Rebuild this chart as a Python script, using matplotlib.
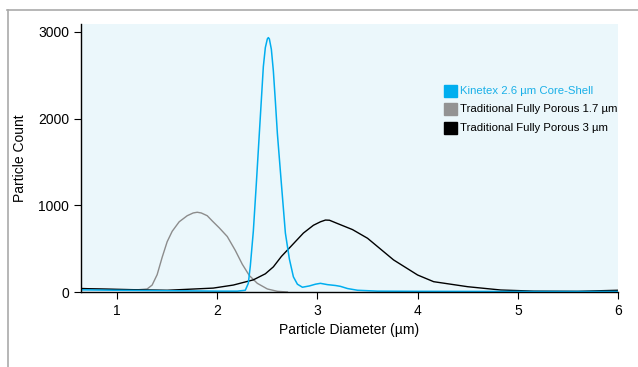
import matplotlib.pyplot as plt
from matplotlib.lines import Line2D

# data
kinetex_x = [0.64, 1.0, 1.5, 2.0, 2.2, 2.28, 2.31, 2.33, 2.36, 2.39, 2.42, 2.46, 2.48, 2.50,
             2.51, 2.52, 2.54, 2.56, 2.58, 2.60, 2.64, 2.68, 2.72, 2.76, 2.80, 2.85, 2.92,
             2.98, 3.03, 3.10, 3.18, 3.23, 3.30, 3.40, 3.60, 4.0, 5.0, 6.0]
kinetex_y = [25, 20, 15, 10, 10, 20, 100, 300, 700, 1250, 1830, 2600, 2820, 2920,
             2935, 2920, 2800, 2550, 2200, 1830, 1250, 680, 380, 175, 90, 55, 70,
             90, 100, 85, 75, 65, 40, 20, 10, 8, 6, 6]

porous17_x = [0.64, 1.0, 1.2, 1.30, 1.35, 1.40, 1.45, 1.50, 1.55, 1.62, 1.70, 1.76, 1.80,
              1.84, 1.90, 1.95, 2.02, 2.10, 2.18, 2.25, 2.32, 2.40, 2.50, 2.60, 2.70]
porous17_y = [40, 30, 25, 35, 80, 200, 400, 580, 700, 810, 880, 912, 920,
              912, 880, 820, 740, 640, 480, 320, 190, 100, 35, 8, 0]

porous3_x = [0.64, 1.0, 1.5, 1.96, 2.16, 2.36, 2.48, 2.56, 2.64, 2.73, 2.86, 2.96, 3.03,
             3.08, 3.12, 3.20, 3.35, 3.50, 3.76, 4.0, 4.16, 4.5, 4.83, 5.16, 5.6, 6.0]
porous3_y = [40, 30, 20, 45, 80, 140, 210, 290, 410, 520, 680, 770, 810,
             830, 828, 790, 720, 620, 370, 196, 119, 61, 23, 10, 8, 20]

labels = ['Kinetex 2.6 µm Core-Shell', 'Traditional Fully Porous 1.7 µm',
          'Traditional Fully Porous 3 µm']
colors = ['#00aeef', '#8c8c8c', '#000000']

plt.rcParams['font.family'] = ['Liberation Sans', 'DejaVu Sans']

fig = plt.figure(figsize=(6.38, 3.67), dpi=100)
ax = fig.add_axes([81 / 638, 75 / 367, 537 / 638, 268 / 367])
ax.set_facecolor('#ebf7fb')

ax.plot(porous17_x, porous17_y, color=colors[1], lw=1.0)
ax.plot(porous3_x, porous3_y, color=colors[2], lw=1.0)
ax.plot(kinetex_x, kinetex_y, color=colors[0], lw=1.1)

ax.set_xlim(0.64, 6)
ax.set_ylim(0, 3092)
ax.set_xticks([1, 2, 3, 4, 5, 6])
ax.set_yticks([0, 1000, 2000, 3000])
ax.tick_params(labelsize=10, length=5, width=0.8, colors='black')
for s in ['top', 'right']:
    ax.spines[s].set_visible(False)
for s in ['left', 'bottom']:
    ax.spines[s].set_linewidth(1.0)

ax.set_xlabel('Particle Diameter (µm)', fontsize=10, labelpad=4)
ax.set_ylabel('Particle Count', fontsize=10, labelpad=8)

# legend as coloured squares with text
for i, (lab, col) in enumerate(zip(labels, colors)):
    yy = 91 + i * 18.5
    sq = '#939393' if i == 1 else col
    fig.patches.append(plt.Rectangle((444 / 638, 1 - (yy + 6) / 367), 12.5 / 638, 12.5 / 367,
                                     transform=fig.transFigure, color=sq, figure=fig))
    fig.text(460 / 638, 1 - yy / 367, lab, fontsize=8.2, va='center', ha='left',
             color='#1ab0e8' if i == 0 else 'black')

# thin frame at the top and left
fig.add_artist(Line2D([7 / 638, 1], [1 - 9.5 / 367, 1 - 9.5 / 367], color='#aaaaaa', lw=1.2))
fig.add_artist(Line2D([7.5 / 638, 7.5 / 638], [0, 1 - 9.5 / 367], color='#aaaaaa', lw=1.2))

fig.savefig('out.png', dpi=100)
